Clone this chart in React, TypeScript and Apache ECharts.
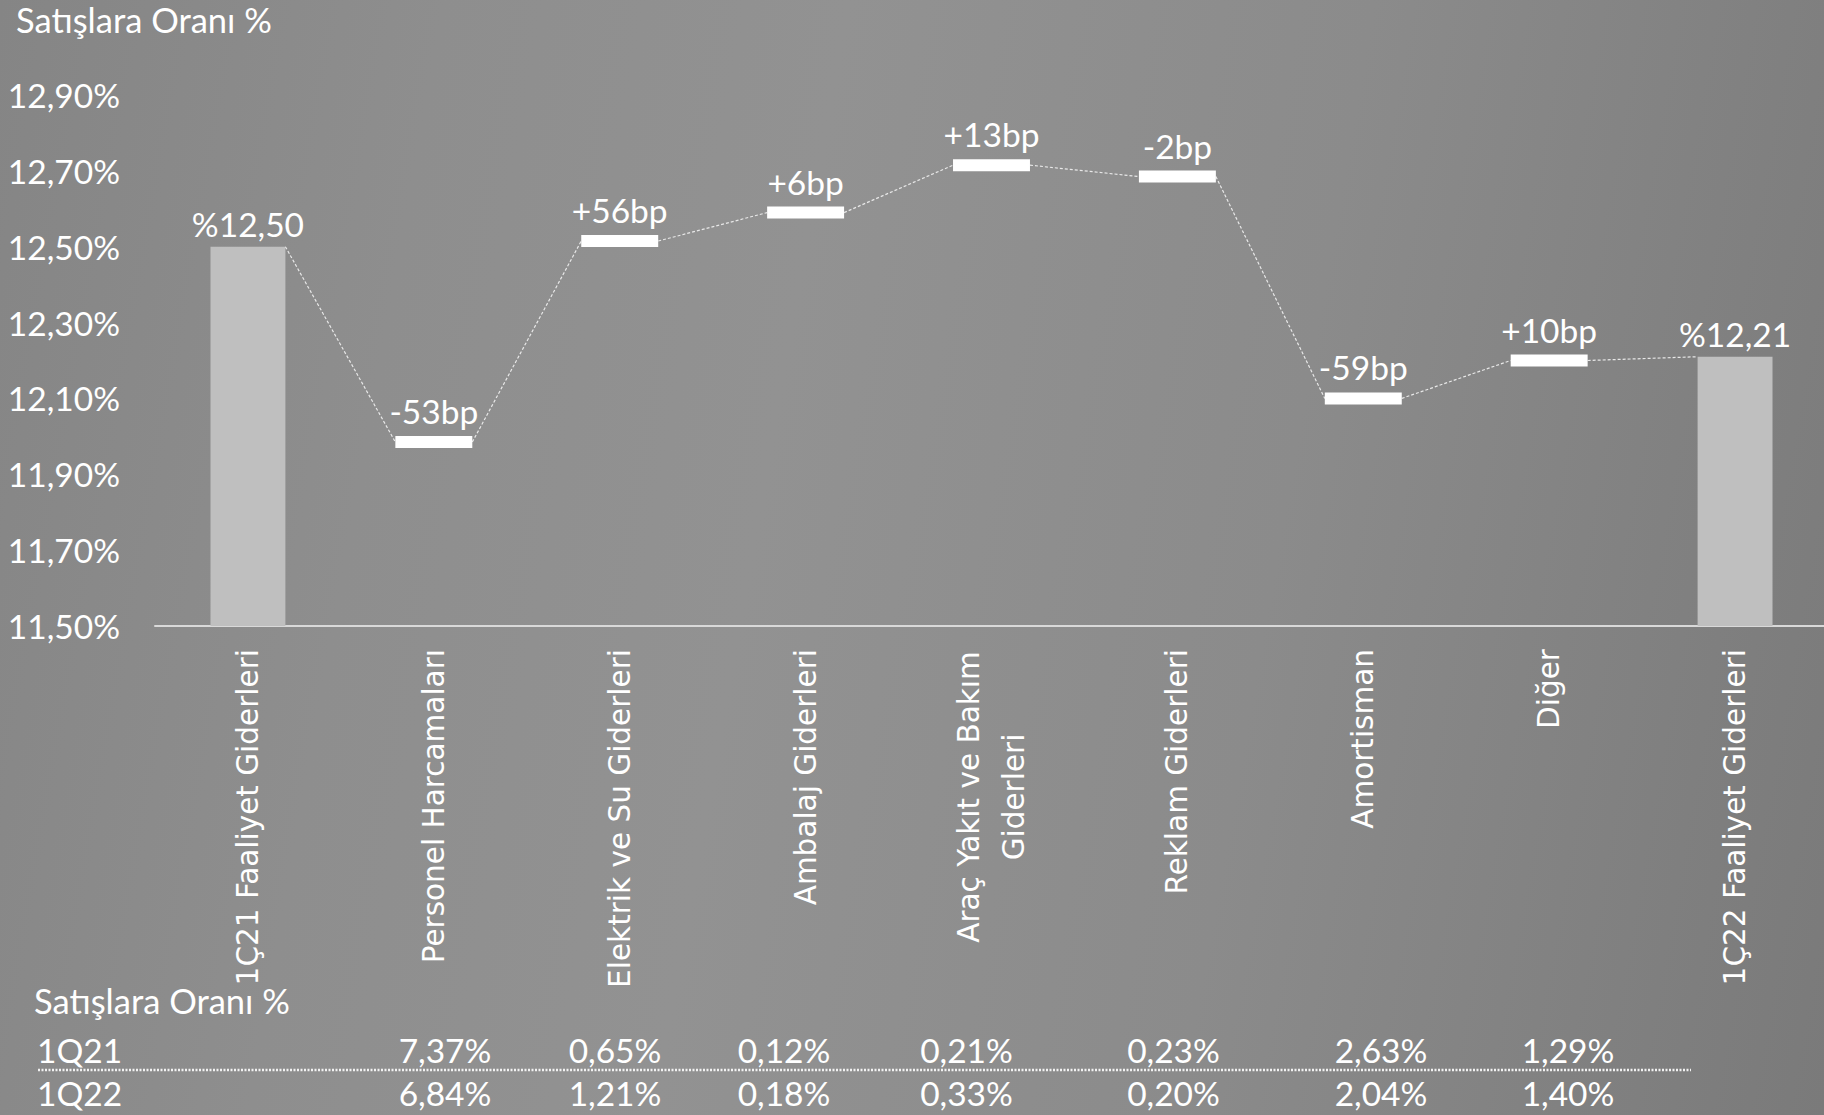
import React, { useEffect, useRef } from "react";
import * as echarts from "echarts";

// ---------- data ----------
const categories = [
  "1Ç21 Faaliyet Giderleri",
  "Personel Harcamaları",
  "Elektrik ve Su Giderleri",
  "Ambalaj Giderleri",
  "Araç Yakıt ve Bakım\nGiderleri",
  "Reklam Giderleri",
  "Amortisman",
  "Diğer",
  "1Ç22 Faaliyet Giderleri",
];
const totalValues: (number | null)[] = [12.5, null, null, null, null, null, null, null, 12.21];
const totalLabels = ["%12,50", "", "", "", "", "", "", "", "%12,21"];
const stepLevels: (number | null)[] = [null, 11.985, 12.515, 12.59, 12.715, 12.685, 12.1, 12.2, null];
const stepLabels = ["", "-53bp", "+56bp", "+6bp", "+13bp", "-2bp", "-59bp", "+10bp", ""];
const yMin = 11.5;
const yMax = 12.9;
const yStep = 0.2;
const axisTitle = "Satışlara Oranı %";
const tableHeader = "Satışlara Oranı %";
const tableRowNames = ["1Q21", "1Q22"];
const q21Values = ["7,37%", "0,65%", "0,12%", "0,21%", "0,23%", "2,63%", "1,29%"];
const q22Values = ["6,84%", "1,21%", "0,18%", "0,33%", "0,20%", "2,04%", "1,40%"];

// ---------- layout / style ----------
const FONT = "Lato";
const CAT_FONT = "DejaVu Sans";
const FS = 33.5;
const CAT_FS = 29.5;
const BAR_W = 0.403;
const MARK_W = 0.414;
const MARK_H = 12;
const tableColX = [445, 615, 784, 966.5, 1173.5, 1381, 1568];
const tableRowY = [1050, 1093];

export default function App() {
  const ref = useRef<HTMLDivElement>(null);
  useEffect(() => {
    if (!ref.current) return;
    const chart = echarts.init(ref.current, undefined, { renderer: "svg" });

    const levelAt = (i: number) => (totalValues[i] != null ? (totalValues[i] as number) : (stepLevels[i] as number));
    const markerData: any[] = [];
    stepLevels.forEach((v, i) => {
      if (v != null) markerData.push([i, v]);
    });
    const connData: any[] = [];
    for (let i = 0; i < categories.length - 1; i++) connData.push([i, levelAt(i), levelAt(i + 1)]);
    const halfW = (i: number) => (totalValues[i] != null ? BAR_W : MARK_W) / 2;

    const graphics: any[] = [
      {
        type: "text",
        x: 16,
        y: 19,
        style: { text: axisTitle, fill: "#fff", fontSize: 34.5, fontFamily: FONT, verticalAlign: "middle", align: "left" },
      },
      {
        type: "text",
        x: 34,
        y: 1000,
        style: { text: tableHeader, fill: "#fff", fontSize: 34.5, fontFamily: FONT, verticalAlign: "middle", align: "left" },
      },
      {
        type: "line",
        shape: { x1: 38, y1: 1070, x2: 1691, y2: 1070 },
        style: { stroke: "#f2f2f2", lineWidth: 2.5, lineDash: [2, 1.5] },
      },
    ];
    [q21Values, q22Values].forEach((row, r) => {
      graphics.push({
        type: "text",
        x: 37,
        y: tableRowY[r],
        style: { text: tableRowNames[r], fill: "#fff", fontSize: FS, fontFamily: FONT, verticalAlign: "middle", align: "left" },
      });
      row.forEach((t, c) => {
        graphics.push({
          type: "text",
          x: tableColX[c],
          y: tableRowY[r],
          style: { text: t, fill: "#fff", fontSize: FS, fontFamily: FONT, verticalAlign: "middle", align: "center" },
        });
      });
    });

    const option: any = {
      animation: false,
      backgroundColor: "transparent",
      textStyle: { fontFamily: FONT },
      grid: { left: 155, top: 95, width: 1673, bottom: 489, containLabel: false, outerBoundsMode: "none" },
      xAxis: {
        type: "category",
        data: categories,
        axisTick: { show: false },
        axisLine: { lineStyle: { color: "#d9d9d9", width: 2 } },
        axisLabel: {
          interval: 0,
          rotate: 90,
          margin: 23,
          color: "#fff",
          fontFamily: CAT_FONT,
          fontSize: CAT_FS,
          lineHeight: 45,
          formatter: (v: string) =>
            v.indexOf("\n") >= 0 ? v.split("\n").map((s) => `{w|${s}}`).join("\n") : v,
          rich: {
            w: { width: 296, align: "center", color: "#fff", fontFamily: CAT_FONT, fontSize: CAT_FS, lineHeight: 45 },
          },
        },
      },
      yAxis: {
        type: "value",
        min: yMin,
        max: yMax,
        interval: yStep,
        splitLine: { show: false },
        axisLine: { show: false },
        axisTick: { show: false },
        axisLabel: {
          color: "#fff",
          fontFamily: FONT,
          fontSize: FS,
          margin: 35,
          formatter: (v: number) => v.toFixed(2).replace(".", ",") + "%",
        },
      },
      series: [
        {
          type: "bar",
          data: totalValues.map((v) => (v == null ? "-" : v)),
          barWidth: `${BAR_W * 100}%`,
          itemStyle: { color: "#bfbfbf" },
          label: {
            show: true,
            position: "top",
            distance: 6,
            color: "#fff",
            fontFamily: FONT,
            fontSize: FS,
            formatter: (p: any) => totalLabels[p.dataIndex],
          },
          z: 2,
        },
        {
          type: "custom",
          data: connData,
          encode: { x: 0, y: [1, 2] },
          clip: false,
          z: 3,
          renderItem: (params: any, api: any) => {
            const i = api.value(0);
            const bw = api.size([1, 0])[0];
            const p1 = api.coord([i, api.value(1)]);
            const p2 = api.coord([i + 1, api.value(2)]);
            return {
              type: "line",
              shape: { x1: p1[0] + bw * halfW(i), y1: p1[1], x2: p2[0] - bw * halfW(i + 1), y2: p2[1] },
              style: { stroke: "#e8e8e8", lineWidth: 1.2, lineDash: [3, 2], fill: null },
            };
          },
        },
        {
          type: "custom",
          data: markerData,
          encode: { x: 0, y: 1 },
          clip: false,
          z: 4,
          renderItem: (params: any, api: any) => {
            const i = api.value(0);
            const c = api.coord([i, api.value(1)]);
            const w = api.size([1, 0])[0] * MARK_W;
            const top = c[1] - MARK_H / 2;
            return {
              type: "group",
              children: [
                {
                  type: "rect",
                  shape: { x: c[0] - w / 2, y: top, width: w, height: MARK_H },
                  style: { fill: "#ffffff" },
                },
                {
                  type: "text",
                  x: c[0],
                  y: top - 8,
                  style: {
                    text: stepLabels[i],
                    fill: "#fff",
                    fontSize: FS,
                    fontFamily: FONT,
                    align: "center",
                    verticalAlign: "bottom",
                  },
                },
              ],
            };
          },
        },
      ],
      graphic: graphics,
    };
    chart.setOption(option);
    const onResize = () => chart.resize();
    window.addEventListener("resize", onResize);
    return () => {
      window.removeEventListener("resize", onResize);
      chart.dispose();
    };
  }, []);

  return (
    <div
      ref={ref}
      style={{
        position: "fixed",
        left: 0,
        top: 0,
        width: "100vw",
        height: "100vh",
        background:
          "linear-gradient(100deg, #858585 0%, #8e8e8e 22%, #929292 42%, #8b8b8b 68%, #7a7a7a 100%)",
      }}
    />
  );
}
